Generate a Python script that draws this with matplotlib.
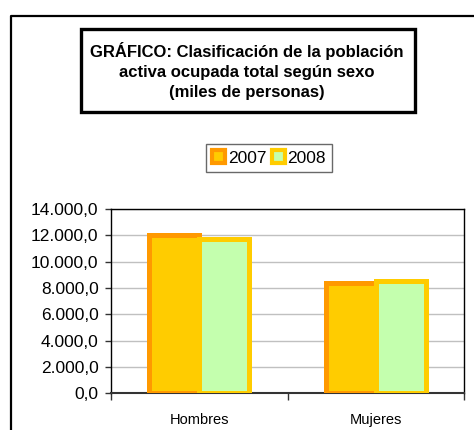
import matplotlib.pyplot as plt
from matplotlib.patches import Patch, Rectangle
from matplotlib.lines import Line2D
from matplotlib.ticker import FuncFormatter

plt.rcParams['font.family'] = ['Liberation Sans', 'DejaVu Sans']

categorias = ["Hombres", "Mujeres"]
anios = ["2007", "2008"]
valores_2007 = [12050, 8360]
valores_2008 = [11720, 8520]
yticks = [0, 2000, 4000, 6000, 8000, 10000, 12000, 14000]

titulo = "GRÁFICO: Clasificación de la población\nactiva ocupada total según sexo\n(miles de personas)"


def fmt_es(v, pos=None):
    s = f"{v:,.1f}"
    return s.replace(",", "X").replace(".", ",").replace("X", ".")


W, H = 474, 430
fig = plt.figure(figsize=(W / 100, H / 100), dpi=100)

# outer frame of the chart area (left and top edges visible)
fig.add_artist(Line2D([11 / W, 11 / W, 1.0], [0.0, 1 - 16 / H, 1 - 16 / H],
                      transform=fig.transFigure, color="black", lw=1.6))

# title box
fig.add_artist(Rectangle((81 / W, 1 - 112 / H), (415 - 81) / W, (112 - 29) / H,
                         transform=fig.transFigure, fill=False, ec="black", lw=2.4))
fig.text(247 / W, 1 - 71 / H, titulo, ha="center", va="center",
         fontsize=12, fontweight="bold", linespacing=1.4)

ax = fig.add_axes([111 / W, 1 - 393.3 / H, (464 - 111) / W, 184.3 / H])

x = list(range(len(categorias)))
ancho = 0.283
ax.bar([i - ancho / 2 for i in x], valores_2007, ancho, color="#ffcc00",
       edgecolor="#ff9900", linewidth=3.6, zorder=3)
ax.bar([i + ancho / 2 for i in x], valores_2008, ancho, color="#c4ffae",
       edgecolor="#ffcc00", linewidth=3.6, zorder=3)

ax.set_xlim(-0.5, 1.5)
ax.set_ylim(0, 14000)
ax.set_yticks(yticks)
ax.yaxis.set_major_formatter(FuncFormatter(fmt_es))
ax.grid(axis="y", color="#c0c0c0", lw=1.0, zorder=0)

ax.set_xticks(x)
ax.set_xticklabels(categorias)
ax.set_xticks([-0.5, 0.5, 1.5], minor=True)
ax.tick_params(axis="x", which="major", length=0, pad=14, labelsize=10.5)
ax.tick_params(axis="x", which="minor", length=5, width=1, color="#333333")
ax.tick_params(axis="y", length=4, width=1, color="#333333", labelsize=12.5, pad=5)

for side in ["left", "right", "top"]:
    ax.spines[side].set_color("black")
    ax.spines[side].set_linewidth(1.0)
ax.spines["bottom"].set_color("#333333")
ax.spines["bottom"].set_linewidth(1.5)

handles = [
    Patch(facecolor="#ffcc00", edgecolor="#ff9900", lw=3, label=anios[0]),
    Patch(facecolor="#c4ffae", edgecolor="#ffcc00", lw=3, label=anios[1]),
]
fig.legend(handles=handles, loc="center", bbox_to_anchor=(269 / W, 1 - 158 / H),
           ncol=2, fontsize=12.5, frameon=True, fancybox=False, shadow=False,
           edgecolor="#444444", handlelength=0.75, handleheight=0.75,
           handletextpad=0.15, columnspacing=0.3, borderpad=0.35,
           borderaxespad=0)

fig.savefig("out.png", dpi=100)
